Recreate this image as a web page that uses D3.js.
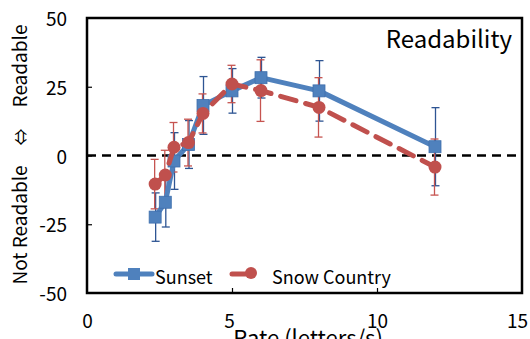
<!DOCTYPE html>
<html><head><meta charset="utf-8">
<script src="https://cdn.jsdelivr.net/npm/d3@7"></script>
<style>body{margin:0;background:#fff}svg{display:block}text{font-family:"Noto Sans CJK JP","Noto Sans",sans-serif;fill:#000}</style>
</head><body><svg id="c" width="530" height="339"></svg>
<script>
const rates = [2.35, 2.7, 3.0, 3.5, 4.0, 5.0, 6.0, 8.0, 12.0];
const sunset = [-22.4, -17, -2, 4, 18.2, 23.5, 28.3, 23.5, 3.2];
const sunsetErr = [8.8, 9, 10.3, 8.7, 10.5, 8.1, 7.4, 11, 14.2];
const snow = [-10.4, -7.1, 3, 4.7, 15.3, 26, 23.6, 17.5, -4.2];
const snowErr = [9, 9, 9, 8.5, 7.1, 6.8, 11.2, 10.8, 10.2];
const xTicks = [0, 5, 10, 15];
const yTicks = [-50, -25, 0, 25, 50];
const seriesNames = ["Sunset", "Snow Country"];

const svg = d3.select("#c");
const L = 87, R = 522, T = 18, B = 293;
const x = d3.scaleLinear().domain([0, 15]).range([L, R]);
const y = d3.scaleLinear().domain([-50, 50]).range([B, T]);
const blue = "#4F81BD", red = "#C0504D", blueErr = "#2E5593", redErr = "#C65450";
const FONT = '"Noto Sans CJK JP","Noto Sans",sans-serif';

// zero dashed line
svg.append("line").attr("x1", L).attr("x2", R).attr("y1", y(0)).attr("y2", y(0))
  .attr("stroke", "#000").attr("stroke-width", 2.5).attr("stroke-dasharray", "9,6");

// axes (inward ticks)
const xAxis = d3.axisBottom(x).tickValues(xTicks).tickSize(-5).tickPadding(18).tickFormat(d => String(d));
const gx = svg.append("g").attr("transform", `translate(0,${B})`).call(xAxis);
gx.select(".domain").remove();
gx.selectAll(".tick line").attr("stroke", "#000").attr("stroke-width", 1.2)
  .attr("display", d => (d === 0 || d === 15) ? "none" : null);
gx.selectAll(".tick text").attr("font-size", 19).attr("font-family", FONT).attr("dy", "0.9em")
  .attr("dx", d => d === 15 ? -5 : (d === 5 ? -3 : 0));

const yAxis = d3.axisLeft(y).tickValues(yTicks).tickSize(-5).tickPadding(20).tickFormat(d => String(d));
const gy = svg.append("g").attr("transform", `translate(${L},0)`).call(yAxis);
gy.select(".domain").remove();
gy.selectAll(".tick line").attr("stroke", "#000").attr("stroke-width", 1.2)
  .attr("display", d => (d === 50 || d === -50) ? "none" : null);
gy.selectAll(".tick text").attr("font-size", 19).attr("font-family", FONT).attr("dy", "0.4em");

// frame
svg.append("rect").attr("x", L).attr("y", T).attr("width", R - L).attr("height", B - T)
  .attr("fill", "none").attr("stroke", "#000").attr("stroke-width", 2.5);

// error bars
function errBars(vals, errs, color, dx) {
  const g = svg.append("g").attr("stroke", color).attr("stroke-width", 1.3);
  rates.forEach((r, i) => {
    const cx = x(r) + dx, y1 = y(vals[i] + errs[i]), y2 = y(vals[i] - errs[i]);
    g.append("line").attr("x1", cx).attr("x2", cx).attr("y1", y1).attr("y2", y2);
    g.append("line").attr("x1", cx - 4).attr("x2", cx + 4).attr("y1", y1).attr("y2", y1);
    g.append("line").attr("x1", cx - 4).attr("x2", cx + 4).attr("y1", y2).attr("y2", y2);
  });
}
errBars(sunset, sunsetErr, blueErr, 0.5);
errBars(snow, snowErr, redErr, -0.5);

const line = d3.line().x((d, i) => x(rates[i])).y(d => y(d));
// Sunset
svg.append("path").datum(sunset).attr("d", line).attr("fill", "none")
  .attr("stroke", blue).attr("stroke-width", 5).attr("stroke-linejoin", "round");
svg.append("g").selectAll("rect").data(sunset).join("rect")
  .attr("x", (d, i) => x(rates[i]) - 6).attr("y", d => y(d) - 6)
  .attr("width", 12).attr("height", 12).attr("fill", blue).attr("stroke", "#3F6FAD").attr("stroke-width", 0.8);
// Snow Country
svg.append("path").datum(snow).attr("d", line).attr("fill", "none")
  .attr("stroke", red).attr("stroke-width", 5).attr("stroke-dasharray", "16,10").attr("stroke-linecap", "round");
svg.append("g").selectAll("circle").data(snow).join("circle")
  .attr("cx", (d, i) => x(rates[i])).attr("cy", d => y(d)).attr("r", 6.5).attr("fill", red);

// title inside
svg.append("text").attr("x", 512).attr("y", 48).attr("text-anchor", "end").attr("font-size", 24).text("Readability");

// legend
const lg = svg.append("g");
lg.append("line").attr("x1", 116).attr("x2", 152).attr("y1", 274).attr("y2", 274).attr("stroke", blue).attr("stroke-width", 5).attr("stroke-linecap", "round");
lg.append("rect").attr("x", 128).attr("y", 268).attr("width", 12).attr("height", 12).attr("fill", blue);
lg.append("text").attr("x", 155).attr("y", 284).attr("font-size", 18).text(seriesNames[0]);
lg.append("line").attr("x1", 232).attr("x2", 252).attr("y1", 274).attr("y2", 274).attr("stroke", red).attr("stroke-width", 5).attr("stroke-linecap", "round");
lg.append("circle").attr("cx", 251).attr("cy", 273).attr("r", 6).attr("fill", red);
lg.append("text").attr("x", 272).attr("y", 284).attr("font-size", 18).text(seriesNames[1]);

// axis titles
svg.append("text").attr("x", 308).attr("y", 346).attr("text-anchor", "middle").attr("font-size", 22).text("Rate (letters/s)");
const yt = svg.append("g").attr("transform", "translate(27,0) rotate(-90)");
yt.append("text").attr("x", -225).attr("y", 0).attr("text-anchor", "middle").attr("font-size", 19).text("Not Readable");
yt.append("text").attr("x", -137).attr("y", 0).attr("text-anchor", "middle").attr("font-size", 17).text("⇔");
yt.append("text").attr("x", -66).attr("y", 0).attr("text-anchor", "middle").attr("font-size", 19).text("Readable");
</script></body></html>
